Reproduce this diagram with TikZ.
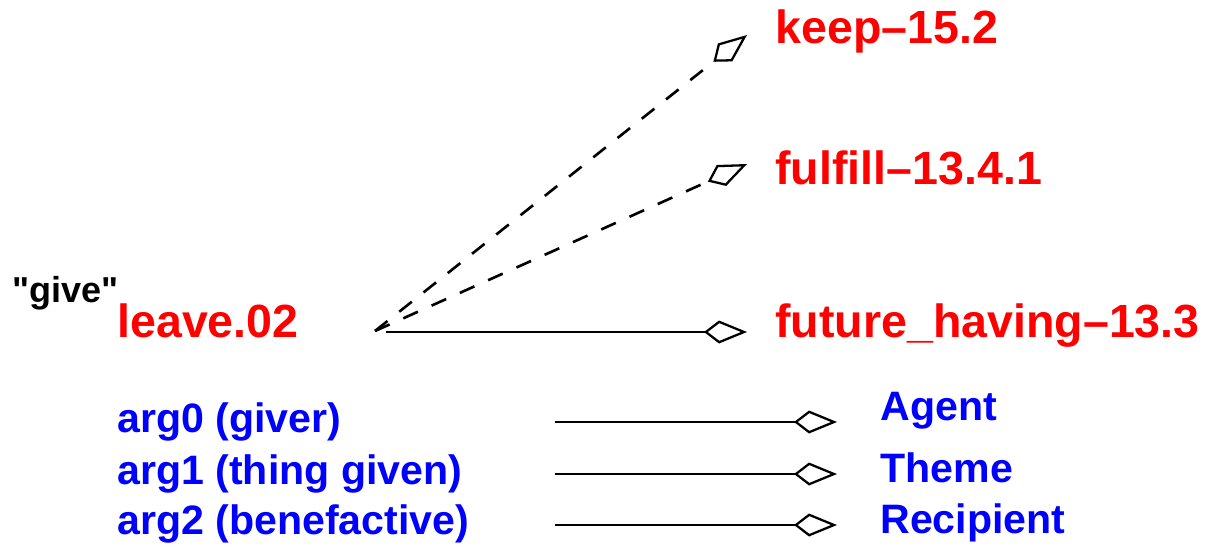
\documentclass[tikz,border=0pt]{standalone}
\usepackage{fontspec}
\setmainfont{Liberation Sans}
\newfontfamily\plainquote{Liberation Sans}[Ligatures=TeXOff]
\usetikzlibrary{arrows.meta}
\definecolor{vred}{RGB}{255,0,0}
\definecolor{vblue}{RGB}{0,0,255}
\tikzset{
  redlbl/.style={anchor=base west, inner sep=0pt, text=vred, font=\bfseries\fontsize{26.5}{30}\selectfont},
  bluelbl/.style={anchor=base west, inner sep=0pt, text=vblue, font=\bfseries\fontsize{23.4}{27}\selectfont},
  blacklbl/.style={anchor=base west, inner sep=0pt, text=black, font=\plainquote\bfseries\fontsize{20.5}{24}\selectfont},
  conn/.style={line width=1.3pt, -{Kite[open, length=0.86cm, width=0.46cm, inset=0.3cm, line width=1.3pt]}},
  dashconn/.style={conn, line width=1.5pt, dash pattern=on 0.32cm off 0.3cm},
}
\begin{document}
\begin{tikzpicture}[x=0.02cm, y=-0.02cm]
\useasboundingbox (0,0) rectangle (1222,544);
% labels
\node[redlbl] (keep) at (775,44) {keep–15.2};
\node[redlbl] (fulfill) at (775,184) {fulfill–13.4.1};
\node[redlbl] (future) at (775,337) {future\_having–13.3};
\node[redlbl] (leave) at (117,337) {leave.02};
\node[blacklbl] (give) at (12,302) {"give"};
\node[bluelbl] (arg0) at (117,432) {arg0 (giver)};
\node[bluelbl] (arg1) at (117,484) {arg1 (thing given)};
\node[bluelbl] (arg2) at (117,534) {arg2 (benefactive)};
\node[bluelbl] (agent) at (880,420) {Agent};
\node[bluelbl] (theme) at (880,482) {Theme};
\node[bluelbl] (recip) at (880,533) {Recipient};
% connector ends
\coordinate (src) at (375,331);
\coordinate (srch) at (386,332);
\coordinate (tkeep) at (747,35);
\coordinate (tfulfill) at (747,164);
\coordinate (tfuture) at (747,332);
\coordinate (s0) at (555,422);
\coordinate (s1) at (555,474);
\coordinate (s2) at (555,525);
\coordinate (t0) at (837,422);
\coordinate (t1) at (837,474);
\coordinate (t2) at (837,525);
% connectors
\draw[dashconn] (src) -- (tkeep);
\draw[dashconn] (src) -- (tfulfill);
\draw[conn] (srch) -- (tfuture);
\draw[conn] (s0) -- (t0);
\draw[conn] (s1) -- (t1);
\draw[conn] (s2) -- (t2);
\end{tikzpicture}
\end{document}
